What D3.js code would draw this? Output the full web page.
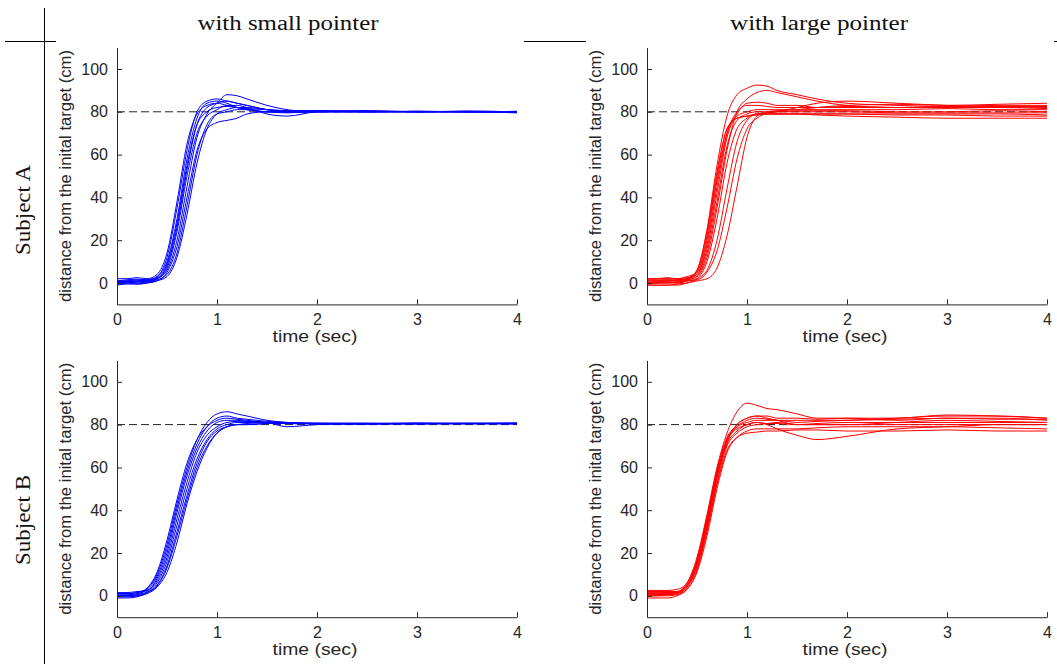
<!DOCTYPE html>
<html>
<head>
<meta charset="utf-8">
<script src="https://cdn.jsdelivr.net/npm/d3@7"></script>
<style>
  body { margin: 0; background: #fff; }
  svg { display: block; }
</style>
</head>
<body>
<svg id="fig" width="1057" height="664"></svg>
<script>
// time samples shared by every trace (sec)
const tSec = [0, 0.1, 0.2, 0.3, 0.4, 0.5, 0.6, 0.7, 0.8, 0.9, 1.0, 1.1, 1.2, 1.3, 1.5, 1.7, 2.0, 2.5, 3.0, 3.5, 4.0];

const colTitles = ["with small pointer", "with large pointer"];
const rowTitles = ["Subject A", "Subject B"];
const yTicks = [0, 20, 40, 60, 80, 100];
const xTicks = [0, 1, 2, 3, 4];
const targetDist = 80;

// Subject A, small pointer
const subjASmall = [
  [1, 1.5, 1.8, 1.5, 3, 12, 35, 62, 80, 85, 86, 85, 84, 83, 81, 80.5, 80.5, 80.2, 80, 80.3, 80],
  [-0.5, 0, 0.5, 0.5, 2, 8, 26, 53, 74, 82, 84, 85, 84, 83, 81, 80, 80.5, 80, 80.2, 80, 79.8],
  [0, 0.5, 0.5, 1, 2, 6, 20, 45, 68, 79, 84, 88, 87.5, 86, 83, 81, 80, 80.5, 80, 80, 80.2],
  [0, 0, -0.5, 0, 1, 5, 17, 40, 62, 72, 75, 76, 77, 79, 80, 80, 80, 80.3, 80, 80.2, 80],
  [2, 2, 2.5, 2, 4, 14, 38, 65, 79, 83, 84, 83, 82, 81, 80, 79.5, 80, 80, 80.3, 80, 80],
  [0.5, 0.5, 1, 1, 2, 7, 24, 50, 70, 78, 81, 83, 83, 82, 79, 78, 80, 80.5, 80, 80, 79.5],
  [0, 0.5, 0, 0.5, 1.5, 4, 14, 36, 60, 74, 79, 80, 81, 81, 80, 80, 80.5, 80, 80, 80.3, 80],
  [1, 1, 1.5, 1, 3, 10, 30, 58, 77, 84, 85, 84, 82, 81, 80, 80, 80, 80, 80, 80, 80],
  [-1, -0.5, -0.5, 0, 1, 3, 12, 32, 56, 72, 79, 81, 82, 82, 81, 80, 80, 80, 80.2, 80, 80],
  [0.5, 1, 1, 1.5, 2.5, 9, 28, 55, 74, 80, 82, 82.5, 82, 81.5, 81, 80.5, 80.2, 80, 80, 80, 80.2]
];

// Subject A, large pointer
const subjALarge = [
  [1, 1, 1.5, 1, 2, 6, 25, 55, 78, 88, 91, 92.5, 92, 90, 88, 86, 84, 83, 82.5, 83, 83],
  [0, 0.5, 0.5, 0.5, 1.5, 3, 12, 35, 62, 80, 86, 89, 90, 89, 87, 85, 83, 82, 82, 82, 81.5],
  [-1, -1, -1, -0.5, 0, 1, 2, 7, 22, 45, 68, 78, 80, 80.5, 81, 82, 83, 83.5, 83, 83.5, 84],
  [2, 2, 2, 2, 2.5, 4, 18, 45, 70, 79, 84, 84.5, 84, 83, 83, 82, 82, 82, 82.5, 82, 82.5],
  [0, 0, 0.5, 0, 1, 2, 6, 20, 44, 66, 76, 79, 79.5, 80, 82, 84, 85, 84, 83, 82.5, 82],
  [1.5, 1.5, 1.5, 1.5, 2, 5, 22, 50, 72, 77, 78, 78.5, 79, 79, 79, 78.5, 78, 77.5, 77, 77, 77],
  [-0.5, 0, 0, 0, 1, 6, 24, 52, 72, 77, 78, 79, 79, 79, 79, 79, 79, 78.5, 78.5, 78, 78],
  [0.5, 0.5, 1, 1, 1.5, 3, 14, 38, 64, 76, 79, 80, 80, 80, 80.5, 80.5, 80.5, 80, 80, 80.5, 80],
  [1, 1, 1, 1.5, 2, 4, 16, 42, 68, 78, 80, 81, 81, 81, 81, 81, 81, 81, 81.5, 81, 81],
  [-1, -1, -1, -1, 0, 2, 10, 30, 56, 72, 77, 79, 79.5, 80, 80, 80, 80, 79.5, 79.5, 79.5, 79.5],
  [0, 0, 0, 0.5, 1, 1.5, 5, 15, 35, 58, 72, 77, 79, 79, 79, 79, 79, 79, 79, 79, 78.5],
  [2, 2, 2.5, 2, 3, 5, 20, 48, 70, 80, 83, 83, 82.5, 82, 82, 82, 82.5, 82, 82, 82.5, 82.5]
];

// Subject B, small pointer
const subjBSmall = [
  [1, 1, 1.5, 3.5, 10, 24, 43, 60, 73, 81, 85, 86, 85, 84, 82, 81, 80.5, 80.3, 80.6, 80.4, 80.5],
  [0.5, 0.5, 1, 3, 9, 22, 41, 58, 71, 79, 83, 84, 83, 82.5, 81.5, 81, 80.5, 80.7, 80.3, 80.6, 80.4],
  [0, 0, 0.5, 3.5, 11, 26, 45, 62, 73, 79, 82, 83, 82.5, 82, 81, 80.5, 80.3, 80.5, 80.8, 80.5, 80.6],
  [0, 0, 0.5, 2, 6, 16, 33, 50, 64, 73, 78, 80, 81, 81, 81, 81, 80.5, 80.2, 80.5, 80.7, 80.5],
  [-1, -1, -0.5, 1.5, 5, 14, 30, 47, 62, 72, 77, 79, 80, 80.5, 81, 80.5, 80.5, 80.6, 80.3, 80.5, 80.2],
  [-0.5, -0.5, 0, 1.5, 4.5, 13, 28, 45, 60, 70, 76, 79, 80, 80, 80.5, 80.5, 80.8, 80.5, 80.5, 80.3, 80.5],
  [1, 1, 1.5, 2.5, 7, 18, 36, 53, 67, 75, 79, 81, 81.5, 81.5, 81, 79, 80, 80.5, 80.6, 80.5, 80.8],
  [0, 0, 0, 1, 4, 11, 25, 43, 58, 69, 76, 79, 80, 80, 80.5, 80.5, 80.5, 80.3, 80.5, 80.6, 80.5],
  [1.5, 1.5, 2, 2.5, 8, 20, 39, 56, 69, 77, 81, 82, 82, 81.5, 81, 80.5, 80.5, 80.5, 80.4, 80.5, 80.7]
];

// Subject B, large pointer
const subjBLarge = [
  [2, 2, 2, 2, 6, 18, 38, 60, 76, 86, 90, 89, 87.5, 87, 85, 83, 83, 82, 83, 82.5, 82.5],
  [0, 0, 0.5, 1, 4, 14, 32, 55, 71, 77, 80, 81, 80, 78, 75, 73, 74.5, 78, 79, 80, 80],
  [1, 1, 1, 1.5, 5, 16, 35, 57, 73, 80, 83, 84, 84, 83, 83, 82.5, 83, 83, 84.5, 84, 83],
  [0.5, 0.5, 1, 1.5, 5, 15, 34, 56, 72, 79, 82, 83, 82.5, 82, 82, 82, 82, 82.5, 83, 83, 82],
  [-1, -1, -1, 0, 3, 11, 28, 50, 67, 74, 77, 78, 78, 78, 78, 78.5, 79, 79, 79, 78.5, 78],
  [0, 0, 0, 0.5, 3, 12, 30, 52, 68, 74, 76, 76.5, 77, 77, 77.5, 77.5, 77, 77, 77.5, 77, 77],
  [1.5, 1.5, 1.5, 2, 5, 16, 36, 58, 73, 78, 80, 81, 80.5, 80.5, 80, 80, 80, 80, 80, 80, 80],
  [0, 0.5, 0.5, 1, 4, 13, 31, 53, 70, 76, 79, 80, 80.5, 81, 80, 80.5, 81, 81, 81, 81, 81],
  [1, 1, 1.5, 1.5, 5, 15, 33, 56, 72, 80, 83, 84, 83, 82, 80, 80, 80, 81, 82, 81.5, 81],
  [2.5, 2.5, 2.5, 3, 6, 17, 37, 59, 74, 79, 81, 82, 82, 82, 81, 81.5, 82, 83, 84, 84, 83]
];

const panels = [
  { row: 0, col: 0, traces: subjASmall, color: "#0000ff" },
  { row: 0, col: 1, traces: subjALarge, color: "#ff0000" },
  { row: 1, col: 0, traces: subjBSmall, color: "#0000ff" },
  { row: 1, col: 1, traces: subjBLarge, color: "#ff0000" }
];

const svg = d3.select("#fig");
const axisCol = "#262626";
const sans = "'Liberation Sans', Arial, sans-serif";
const serif = "'Liberation Serif', 'DejaVu Serif', serif";

// table rules behind the plots
svg.append("line").attr("x1", 44.5).attr("x2", 44.5).attr("y1", 8).attr("y2", 664)
  .attr("stroke", "#000").attr("stroke-width", 1);
[[5, 56], [524, 586], [1054, 1057]].forEach(([a, b]) => {
  svg.append("line").attr("x1", a).attr("x2", b).attr("y1", 41.5).attr("y2", 41.5)
    .attr("stroke", "#000").attr("stroke-width", 1);
});

// column / row headers
const colCenters = [288, 819];
const colWidths = [181, 178];
colTitles.forEach((t, i) => {
  svg.append("text").attr("x", colCenters[i]).attr("y", 30)
    .attr("text-anchor", "middle").attr("font-family", serif).attr("font-size", "20px")
    .attr("fill", "#111")
    .attr("textLength", colWidths[i]).attr("lengthAdjust", "spacingAndGlyphs")
    .text(t);
});
const rowCenters = [210, 520];
rowTitles.forEach((t, i) => {
  svg.append("text").attr("transform", `translate(30, ${rowCenters[i]}) rotate(-90)`)
    .attr("text-anchor", "middle").attr("font-family", serif).attr("font-size", "20px")
    .attr("fill", "#111")
    .attr("textLength", 90).attr("lengthAdjust", "spacingAndGlyphs")
    .text(t);
});

const plotW = 400, plotH = 256.8;
const panelLeft = [117, 647], panelTop = [47.6, 360.4];

panels.forEach(p => {
  const g = svg.append("g").attr("transform", `translate(${panelLeft[p.col]}, ${panelTop[p.row]})`);

  const x = d3.scaleLinear().domain([0, 4]).range([0, plotW]);
  const y = d3.scaleLinear().domain([-10, 110]).range([plotH, 0]);

  const line = d3.line()
    .x((d, i) => x(tSec[i]))
    .y(d => y(d))
    .curve(d3.curveMonotoneX);

  // dashed target line
  g.append("line")
    .attr("x1", x(0)).attr("x2", x(4))
    .attr("y1", y(targetDist)).attr("y2", y(targetDist))
    .attr("stroke", "#222").attr("stroke-width", 1)
    .attr("stroke-dasharray", "8,4");

  g.selectAll(".trace")
    .data(p.traces)
    .join("path")
    .attr("class", "trace")
    .attr("d", line)
    .attr("fill", "none")
    .attr("stroke", p.color)
    .attr("stroke-width", 1);

  const xAxis = d3.axisBottom(x).tickValues(xTicks).tickFormat(d3.format("d"))
    .tickSizeInner(-5).tickSizeOuter(0).tickPadding(9);
  const yAxis = d3.axisLeft(y).tickValues(yTicks).tickFormat(d3.format("d"))
    .tickSizeInner(-5).tickSizeOuter(0).tickPadding(9);

  const gx = g.append("g").attr("transform", `translate(0, ${plotH})`).call(xAxis);
  const gy = g.append("g").call(yAxis);
  [gx, gy].forEach(a => {
    a.select(".domain").attr("stroke", axisCol);
    a.selectAll(".tick line").attr("stroke", axisCol);
    a.selectAll(".tick text").attr("fill", axisCol)
      .attr("font-family", sans).attr("font-size", "16px");
  });

  g.append("text")
    .attr("x", plotW / 2 - 2).attr("y", plotH + 38)
    .attr("text-anchor", "middle").attr("font-family", sans).attr("font-size", "16px")
    .attr("fill", axisCol)
    .attr("textLength", 85).attr("lengthAdjust", "spacingAndGlyphs")
    .text("time (sec)");

  g.append("text")
    .attr("transform", `translate(-52, ${plotH / 2}) rotate(-90)`)
    .attr("text-anchor", "middle").attr("dy", "0.35em")
    .attr("font-family", sans).attr("font-size", "16px")
    .attr("fill", axisCol)
    .attr("textLength", 252).attr("lengthAdjust", "spacingAndGlyphs")
    .text("distance from the inital target (cm)");
});
</script>
</body>
</html>
